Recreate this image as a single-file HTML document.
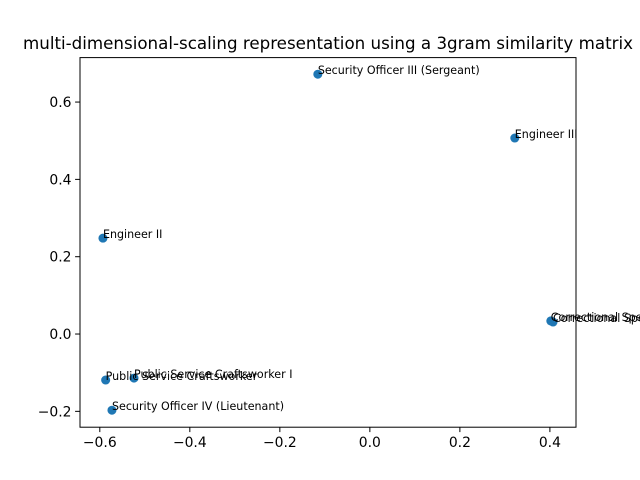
<!DOCTYPE html>
<html><head><meta charset="utf-8"><style>body{margin:0;background:#fff}svg{display:block;font-family:"DejaVu Sans","Liberation Sans",sans-serif}</style></head>
<body>
<svg id="chart" width="640" height="480" viewBox="0 0 640 480" xmlns="http://www.w3.org/2000/svg">
<rect width="640" height="480" fill="#fff"/>
<text x="328" y="49" font-size="16.7" text-anchor="middle">multi-dimensional-scaling representation using a 3gram similarity matrix</text>
<g id="marks"></g>
<g id="labels"></g>
<rect x="80" y="57.6" width="496" height="369.6" fill="none" stroke="#000" stroke-width="1"/>
<g id="xticks"></g><g id="yticks"></g>
</svg>
<script>
const labels = ["Security Officer III (Sergeant)","Engineer III","Engineer II","Correctional Specialist","Correctional Specialist II","Public Service Craftsworker","Public Service Craftsworker I","Security Officer IV (Lieutenant)"];
const xs = [-0.1156, 0.322, -0.593, 0.402, 0.407, -0.587, -0.524, -0.573];
const ys = [0.672, 0.507, 0.248, 0.034, 0.031, -0.119, -0.114, -0.197];
const xTicks = [-0.6,-0.4,-0.2,0.0,0.2,0.4];
const yTicks = [-0.2,0.0,0.2,0.4,0.6];
const X0=-0.644,X1=0.458,Y0=-0.241,Y1=0.715;
const L=80,R=576,T=57.6,B=427.2;
const sx=v=>L+(v-X0)/(X1-X0)*(R-L);
const sy=v=>B-(v-Y0)/(Y1-Y0)*(B-T);
const NS="http://www.w3.org/2000/svg";
function mk(t,a,p){const e=document.createElementNS(NS,t);for(const k in a)e.setAttribute(k,a[k]);p.appendChild(e);return e;}
const gm=document.getElementById('marks'),gl=document.getElementById('labels');
xs.forEach((x,i)=>{
  const c=mk('circle',{cx:sx(x),cy:sy(ys[i]),r:4.5,fill:'#1f77b4'},gm);
  
  
  const t=mk('text',{x:sx(x),y:sy(ys[i]),'font-size':'11.1'},gl);
  t.textContent=labels[i];
  
  
});
const gx=document.getElementById('xticks'),gy=document.getElementById('yticks');
xTicks.forEach(v=>{
  const x=sx(v);
  const l=mk('line',{x1:x,x2:x,y1:B,y2:B+4.9,stroke:'#000'},gx);
  
  
  const t=mk('text',{x:x,y:B+20,'font-size':'13.9','text-anchor':'middle'},gx);
  t.textContent=(v<0?'\u2212':'')+Math.abs(v).toFixed(1);
  
  
});
yTicks.forEach(v=>{
  const y=sy(v);
  const l=mk('line',{x1:L-4.9,x2:L,y1:y,y2:y,stroke:'#000'},gy);
  
  
  const t=mk('text',{x:L-8.5,y:y+5,'font-size':'13.9','text-anchor':'end'},gy);
  t.textContent=(v<0?'\u2212':'')+Math.abs(v).toFixed(1);
  
  
});
</script>
</body></html>
